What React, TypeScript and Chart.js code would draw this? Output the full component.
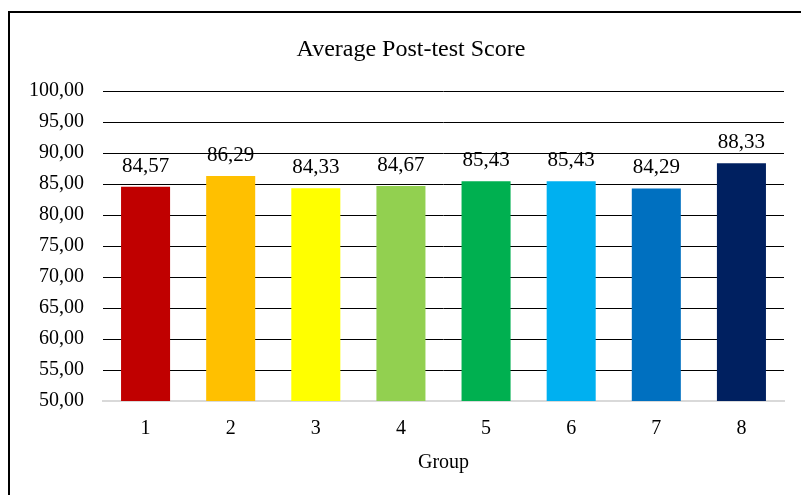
import React, { useEffect, useRef } from "react";
import { Chart, registerables } from "chart.js";

Chart.register(...registerables);

const categories = ["1", "2", "3", "4", "5", "6", "7", "8"];
const scores = [84.57, 86.29, 84.33, 84.67, 85.43, 85.43, 84.29, 88.33];
const barColors = ["#C00000", "#FFC000", "#FFFF00", "#92D050", "#00B050", "#00B0F0", "#0070C0", "#002060"];
const yMin = 50;
const yMax = 100;
const yStep = 5;
const chartTitle = "Average Post-test Score";
const xTitle = "Group";

const FONT = "'Liberation Serif', 'Times New Roman', serif";
const fmt = (v: number) => v.toFixed(2).replace(".", ",");

const labelPlugin = {
  id: "barLabels",
  afterDatasetsDraw(chart: any) {
    const ctx = chart.ctx;
    const meta = chart.getDatasetMeta(0);
    ctx.save();
    ctx.fillStyle = "#000";
    ctx.textAlign = "center";
    ctx.textBaseline = "alphabetic";
    ctx.font = `21px ${FONT}`;
    meta.data.forEach((bar: any, i: number) => {
      ctx.fillText(fmt(scores[i]), bar.x, bar.y - 15);
    });
    // chart title, centred on the outer frame
    ctx.font = `24px ${FONT}`;
    ctx.fillText(chartTitle, 411, 56);
    ctx.restore();
  },
};

export default function App() {
  const ref = useRef<HTMLCanvasElement>(null);
  useEffect(() => {
    if (!ref.current) return;
    const chart = new Chart(ref.current, {
      type: "bar",
      data: {
        labels: categories,
        datasets: [
          {
            data: scores,
            backgroundColor: barColors,
            borderWidth: 0,
            categoryPercentage: 1,
            barPercentage: 0.576,
          },
        ],
      },
      options: {
        animation: false,
        responsive: false,
        maintainAspectRatio: false,
        layout: { padding: { left: 0, right: 17, top: 91, bottom: 20 } },
        plugins: {
          legend: { display: false },
          tooltip: { enabled: false },
          title: { display: false },
        },
        scales: {
          x: {
            grid: { display: false, drawTicks: false },
            border: { display: true, color: "#d9d9d9", width: 2 },
            ticks: { color: "#000", font: { family: FONT, size: 20 }, padding: 16 },
            title: {
              display: true,
              text: xTitle,
              color: "#000",
              font: { family: FONT, size: 20 },
              padding: { top: -6, bottom: 0 },
            },
          },
          y: {
            min: yMin,
            max: yMax,
            border: { display: false },
            grid: {
              drawTicks: false,
              color: (c: any) => (c.tick && c.tick.value === yMin ? "#d9d9d9" : "#000"),
              lineWidth: 1,
            },
            ticks: {
              stepSize: yStep,
              color: "#000",
              font: { family: FONT, size: 20 },
              padding: 19,
              callback: (v: any) => fmt(Number(v)),
            },
            afterFit: (s: any) => {
              s.width = 103;
            },
          },
        },
      },
      plugins: [labelPlugin],
    });
    return () => chart.destroy();
  }, []);

  return (
    <div style={{ position: "fixed", left: 0, top: 0, width: 801, height: 495, background: "#fff" }}>
      <div
        style={{
          position: "absolute",
          left: 8,
          top: 11,
          width: 1000,
          height: 1000,
          border: "2px solid #000",
        }}
      />
      <canvas ref={ref} width={801} height={495} style={{ position: "absolute", left: 0, top: 0 }} />
    </div>
  );
}
